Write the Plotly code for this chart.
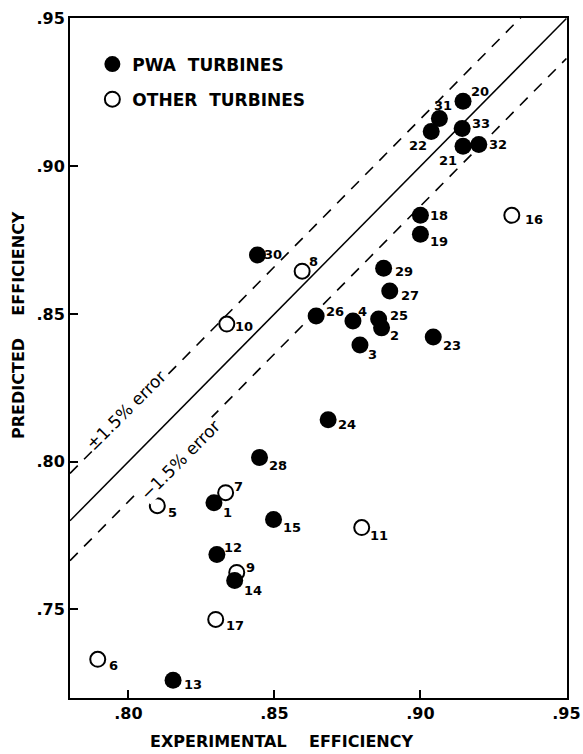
import plotly.graph_objects as go

# PWA turbines (filled)
pwa_ids = ["1", "2", "3", "4", "12", "13", "14", "15", "18", "19", "20", "21", "22",
           "23", "24", "25", "26", "27", "28", "29", "30", "31", "32", "33"]
pwa_exp = [0.8293, 0.8867, 0.8793, 0.8769, 0.8303, 0.8153, 0.8364, 0.8497, 0.9000, 0.9000,
           0.9146, 0.9146, 0.9037, 0.9044, 0.8684, 0.8857, 0.8643, 0.8895, 0.8449, 0.8874,
           0.8442, 0.9065, 0.9200, 0.9143]
pwa_pred = [0.7861, 0.8453, 0.8395, 0.8476, 0.7686, 0.7260, 0.7598, 0.7804, 0.8834, 0.8770,
            0.9220, 0.9068, 0.9118, 0.8422, 0.8142, 0.8483, 0.8493, 0.8578, 0.8014, 0.8655,
            0.8700, 0.9162, 0.9074, 0.9128]

# Other turbines (open)
oth_ids = ["5", "6", "7", "8", "9", "10", "11", "16", "17"]
oth_exp = [0.8099, 0.7895, 0.8333, 0.8595, 0.8371, 0.8337, 0.8799, 0.9313, 0.8299]
oth_pred = [0.7851, 0.7331, 0.7895, 0.8645, 0.7625, 0.8466, 0.7777, 0.8834, 0.7466]

# label offsets in pixels (right, down) -- styling only
pwa_lbl_off = [(14, 10), (13, 8), (13, 9), (10, -10), (16, -7), (20, 4), (18, 10), (18, 8),
               (19, 0), (19, 7), (17, -10), (-15, 14), (-13, 14), (19, 8), (19, 5), (20, -4),
               (19, -5), (20, 5), (18, 8), (20, 3), (16, 0), (4, -13), (19, 0), (19, -5)]
oth_lbl_off = [(15, 7), (16, 6), (13, -6), (11, -10), (14, -5), (17, 2), (17, 8), (22, 4), (19, 6)]

x_range = [0.78, 0.9502]
y_range = [0.72, 0.9502]
x_ticks = [0.80, 0.85, 0.90, 0.95]
x_ticklabels = [".80", ".85", ".90", ".95"]
y_ticks = [0.75, 0.80, 0.85, 0.90, 0.95]
y_ticklabels = [".75", ".80", ".85", ".90", ".95"]
upper_off = 0.016
lower_off = -0.0135

FONT = "DejaVu Sans"
fig = go.Figure()

line_x = [0.78, 0.95]
fig.add_trace(go.Scatter(x=line_x, y=line_x, mode="lines",
                         line=dict(color="black", width=1.5), showlegend=False, hoverinfo="skip"))
fig.add_trace(go.Scatter(x=line_x, y=[v + upper_off for v in line_x], mode="lines",
                         line=dict(color="black", width=1.6, dash="11px,9px"), showlegend=False, hoverinfo="skip"))
fig.add_trace(go.Scatter(x=line_x, y=[v + lower_off for v in line_x], mode="lines",
                         line=dict(color="black", width=1.6, dash="11px,9px"), showlegend=False, hoverinfo="skip"))

# error-band labels (sit on the dashed lines, interrupting them)
fig.add_annotation(x=0.7993, y=0.8175, text="±1.5% error", showarrow=False,
                   textangle=-45, bgcolor="white", borderpad=0,
                   font=dict(family=FONT, size=17, color="black"))
fig.add_annotation(x=0.8177, y=0.8007, text="−1.5% error", showarrow=False,
                   textangle=-45, bgcolor="white", borderpad=0,
                   font=dict(family=FONT, size=17, color="black"))

fig.add_trace(go.Scatter(x=pwa_exp, y=pwa_pred, mode="markers", name="<b>PWA  TURBINES</b>",
                         legendgroup="a",
                         marker=dict(symbol="circle", size=17, color="black")))
fig.add_trace(go.Scatter(x=oth_exp, y=oth_pred, mode="markers", name="<b>OTHER  TURBINES</b>",
                         legendgroup="b",
                         marker=dict(symbol="circle-open", size=15, color="black",
                                     line=dict(width=2, color="black"))))

for xs, ys, ids, offs in [(pwa_exp, pwa_pred, pwa_ids, pwa_lbl_off),
                          (oth_exp, oth_pred, oth_ids, oth_lbl_off)]:
    for xv, yv, t, (dx, dy) in zip(xs, ys, ids, offs):
        fig.add_annotation(x=xv, y=yv, text="<b>" + t + "</b>", showarrow=False,
                           xshift=dx, yshift=-dy,
                           font=dict(family=FONT, size=13, color="black"))

fig.add_annotation(xref="paper", yref="paper", x=-0.104, y=0.549, xanchor="center",
                   yanchor="middle",
                   text="<b>PREDICTED    EFFICIENCY</b>", showarrow=False, textangle=-90,
                   font=dict(family=FONT, size=16, color="black"))
fig.add_annotation(xref="paper", yref="paper", x=0.425, y=-0.047, xanchor="center",
                   yanchor="top",
                   text="<b>EXPERIMENTAL    EFFICIENCY</b>", showarrow=False,
                   font=dict(family=FONT, size=16, color="black"))

axis_common = dict(showgrid=False, zeroline=False, showline=True, linecolor="black",
                   linewidth=2, mirror=True, ticks="inside", ticklen=8, tickwidth=2,
                   automargin=False, ticklabeloverflow="allow",
                   tickcolor="black", tickfont=dict(family=FONT, size=16, color="black"))
fig.update_xaxes(range=x_range, tickvals=x_ticks,
                 ticktext=["<b>" + t + "</b>" for t in x_ticklabels], **axis_common)
fig.update_yaxes(range=y_range, tickvals=y_ticks,
                 ticktext=["<b>" + t + "</b>" for t in y_ticklabels], **axis_common)

fig.update_layout(
    width=583, height=754,
    margin=dict(l=70, r=16, t=18, b=56, autoexpand=False),
    paper_bgcolor="white", plot_bgcolor="white",
    font=dict(family=FONT, color="black"),
    legend=dict(x=0.045, y=0.958, xanchor="left", yanchor="top", bgcolor="rgba(0,0,0,0)",
                font=dict(family=FONT, size=17, color="black"), itemsizing="trace",
                traceorder="grouped", tracegroupgap=10),
)

fig.write_html("out.html")
